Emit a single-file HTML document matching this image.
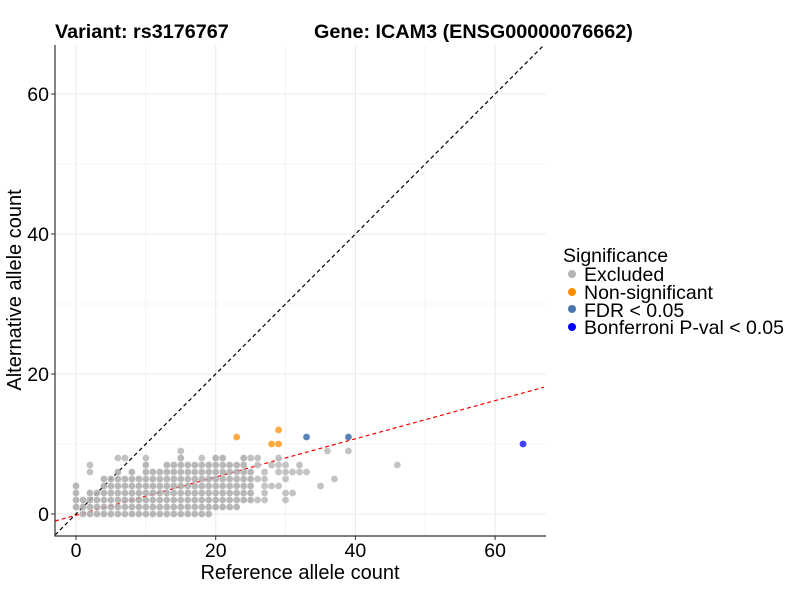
<!DOCTYPE html>
<html><head><meta charset="utf-8"><style>
body{margin:0;background:#fff;}
svg text{font-family:"Liberation Sans",Arial,sans-serif;}
</style></head><body>
<svg id="chart" width="800" height="600" xmlns="http://www.w3.org/2000/svg">
<text x="55" y="38" font-size="19.8" font-weight="bold">Variant: rs3176767</text>
<text x="314" y="38" font-size="19.8" font-weight="bold">Gene: ICAM3 (ENSG00000076662)</text>
<g id="grid"></g><g id="lines"></g><g id="pts"></g><g id="axes"></g>
<text x="300" y="579" font-size="20" text-anchor="middle">Reference allele count</text>
<text transform="translate(21,290) rotate(-90)" font-size="20" text-anchor="middle">Alternative allele count</text>
<g>
<text x="563" y="262" font-size="19.5">Significance</text>
<circle cx="572" cy="274" r="4" fill="#b3b3b3"/>
<text x="584" y="281" font-size="19.5">Excluded</text>
<circle cx="572" cy="292" r="4" fill="#ff8c00"/>
<text x="584" y="299" font-size="19.5">Non-significant</text>
<circle cx="572" cy="309" r="4" fill="#4a76ad"/>
<text x="584" y="317" font-size="19.5">FDR &lt; 0.05</text>
<circle cx="572" cy="327" r="4" fill="#0000ff"/>
<text x="584" y="334" font-size="19.5">Bonferroni P-val &lt; 0.05</text>
</g>
</svg>
<script>
const xTicks=[0,20,40,60];
const yTicks=[0,20,40,60];
// excluded: columns with [x, ymin, ymax]
const colRanges=[[0,1,4],[1,0,2],[2,0,3],[3,0,3],[4,0,5],[5,0,5],[6,0,6],[7,0,5],[8,0,6],[9,0,5],[10,0,7],[11,0,6],[12,0,6],[13,0,7],[14,0,7],[15,0,8],[16,0,7],[17,0,7],[18,0,7],[19,0,7],[20,1,8],[21,1,8],[22,1,7],[23,1,7],[24,2,8],[25,2,6]];
const extraX=[2,2,6,7,10,15,18,25,26,26,26,26,27,27,27,27,27,28,28,29,29,29,29,30,30,30,30,30,31,31,32,32,33,35,36,37,39,46];
const extraY=[6,7,8,8,8,9,8,8,8,7,5,2,6,5,4,3,2,7,4,8,7,6,4,7,6,5,3,2,6,3,7,6,6,4,9,5,9,7];
const nsX=[23,28,29,29], nsY=[11,10,12,10];
const fdrX=[33,39], fdrY=[11,11];
const bonX=[64], bonY=[10];
const regSlope=0.273, regIntercept=-0.18;

const L=55,R=546,T=45,B=536;
const sx=v=>76+v*6.985, sy=v=>514-v*7;
const NS='http://www.w3.org/2000/svg';
function mk(p,t,a){const e=document.createElementNS(NS,t);for(const k in a)e.setAttribute(k,a[k]);document.getElementById(p).appendChild(e);return e;}
for(let v=-0;v<=60;v+=10){
 let e=mk('grid','line',{x1:sx(v),x2:sx(v),y1:T,y2:B,stroke:'#ebebeb','stroke-width':v%20?0.6:1.1});
 
 
 e=mk('grid','line',{x1:L,x2:R,y1:sy(v),y2:sy(v),stroke:'#ebebeb','stroke-width':v%20?0.6:1.1});
 
 
}
let ln=mk('lines','line',{x1:sx(-3),y1:sy(-3),x2:sx(67),y2:sy(67),stroke:'#000','stroke-width':1.2,'stroke-dasharray':'4,3'});


ln=mk('lines','line',{x1:sx(-3),y1:sy(regIntercept-3*regSlope),x2:sx(67),y2:sy(regIntercept+67*regSlope),stroke:'#ff0000','stroke-width':1.2,'stroke-dasharray':'4,3'});


function pt(x,y,c,n,op){const e=mk('pts','circle',{cx:sx(x),cy:sy(y),r:3.4,fill:c,'fill-opacity':op});
 
 }
colRanges.forEach(([x,a,b])=>{for(let y=a;y<=b;y++)pt(x,y,'#aaaaaa','point-excluded',0.85);});
extraX.forEach((x,i)=>pt(x,extraY[i],'#bdbdbd','point-excluded',0.9));
nsX.forEach((x,i)=>pt(x,nsY[i],'#ff9a1f','point-nonsignificant',0.85));
fdrX.forEach((x,i)=>pt(x,fdrY[i],'#4a76ad','point-fdr',0.9));
bonX.forEach((x,i)=>pt(x,bonY[i],'#2b2bff','point-bonferroni',0.9));
let a=mk('axes','polyline',{points:`${L},${T} ${L},${B} ${R},${B}`,fill:'none',stroke:'#333','stroke-width':1.2});


xTicks.forEach(v=>{
 let t=mk('axes','line',{x1:sx(v),x2:sx(v),y1:B,y2:B+4,stroke:'#333'});
 
 
 t=mk('axes','text',{x:sx(v),y:B+21,'font-size':19.5,'text-anchor':'middle'});t.textContent=v;
 
 
});
yTicks.forEach(v=>{
 let t=mk('axes','line',{x1:L-4,x2:L,y1:sy(v),y2:sy(v),stroke:'#333'});
 
 
 t=mk('axes','text',{x:L-6,y:sy(v)+7,'font-size':19.5,'text-anchor':'end'});t.textContent=v;
 
 
});
</script>
</body></html>
